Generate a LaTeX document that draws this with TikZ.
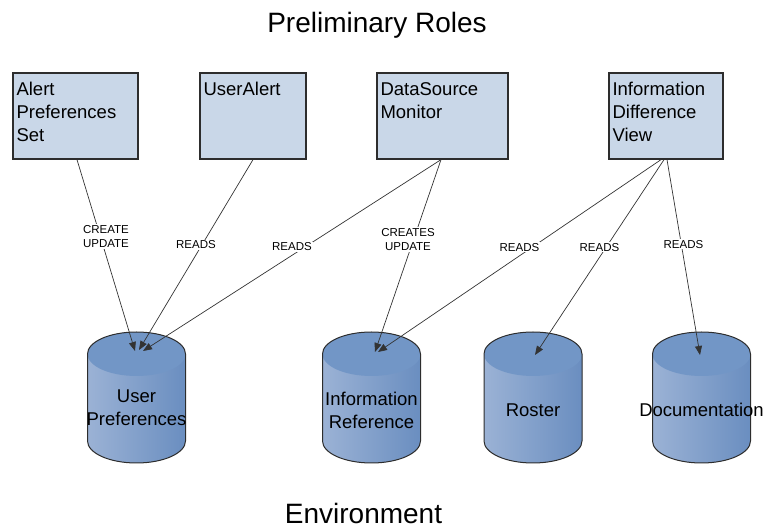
\documentclass[tikz,border=0pt]{standalone}
\usepackage{fontspec}
\setmainfont{Liberation Sans}
\usetikzlibrary{arrows.meta}
\definecolor{rolefill}{RGB}{201,215,232}
\definecolor{dbleft}{RGB}{155,178,213}
\definecolor{dbright}{RGB}{106,142,192}
\definecolor{dbtop}{RGB}{114,150,198}
\definecolor{edge}{RGB}{45,45,45}
% database cylinder centred at x=#1 (top rim y=354, bottom rim y=441)
\newcommand\drawdb[1]{%
  \path[left color=dbleft, right color=dbright]
    (#1-49,354) -- (#1-49,441) arc[start angle=180, end angle=360, x radius=49pt, y radius=22pt]
    -- (#1+49,354) arc[start angle=0, end angle=180, x radius=49pt, y radius=22pt] -- cycle;
  \path[fill=dbtop] (#1,354) ellipse[x radius=49pt, y radius=22pt];
  \draw[edge, line width=1pt]
    (#1-49,354) -- (#1-49,441) arc[start angle=180, end angle=360, x radius=49pt, y radius=22pt]
    -- (#1+49,354) arc[start angle=0, end angle=180, x radius=49pt, y radius=22pt] -- cycle;
}
\begin{document}
\begin{tikzpicture}[x=1pt, y=-1pt,
  role/.style={draw=edge, line width=1.3pt, fill=rolefill, minimum height=86pt, inner sep=0pt},
  roletext/.style={anchor=north west, align=left, inner sep=0pt,
    font=\fontsize{18.5}{23}\selectfont},
  dbtext/.style={align=center, inner sep=0pt, font=\fontsize{18.5}{22.5}\selectfont},
  title/.style={inner sep=0pt, font=\fontsize{28}{30}\selectfont},
  link/.style={draw=black!80, line width=0.7pt, -{Triangle[length=9pt, width=7pt]}},
  lbl/.style={fill=white, inner sep=1pt, align=center, font=\fontsize{11.5}{14.5}\selectfont}]
\useasboundingbox (0,0) rectangle (764,529);

% titles
\node[title, anchor=base] (ttop) at (377,33) {Preliminary Roles};
\node[title, anchor=base] (tbot) at (363.5,523.5) {Environment};

% role boxes
\node[role, minimum width=125pt] (aps) at (75.5,116) {};
\node[role, minimum width=106pt] (ua)  at (253,116) {};
\node[role, minimum width=131pt] (dsm) at (442.5,116) {};
\node[role, minimum width=114pt] (idv) at (666,116) {};
\node[roletext] (apsT) at ([shift={(4,10)}]aps.north west) {Alert\\Preferences\\Set};
\node[roletext] (uaT)  at ([shift={(4,10)}]ua.north west) {UserAlert};
\node[roletext] (dsmT) at ([shift={(4,10)}]dsm.north west) {DataSource\\Monitor};
\node[roletext] (idvT) at ([shift={(4,10)}]idv.north west) {Information\\Difference\\View};

% data stores
\drawdb{136.5}
\drawdb{371.5}
\drawdb{533}
\drawdb{701.5}
\node[dbtext, anchor=north] (up) at (136.5,390) {User\\Preferences};
\node[dbtext, anchor=north] (ir) at (371.5,392) {Information\\Reference};
\node[dbtext, anchor=base]  (ro) at (533,417) {Roster};
\node[dbtext, anchor=base]  (doc) at (701.5,417) {Documentation};

% arrow targets on the cylinder tops
\coordinate (upA) at (135,351);
\coordinate (upB) at (139,350);
\coordinate (upC) at (143,351);
\coordinate (irA) at (375,352);
\coordinate (irB) at (378,352);
\coordinate (roA) at (535,355);
\coordinate (doA) at (700,355);

% connectors
\draw[link] ([xshift=1.5pt]aps.south) -- node[lbl, pos=0.5, yshift=19pt] (l1) {CREATE\\UPDATE} (upA);
\draw[link] (ua.south) -- node[lbl, pos=0.5, yshift=10pt] (l2) {READS} (upB);
\draw[link] ([xshift=-1.5pt]dsm.south) -- node[lbl, pos=0.5, yshift=8.5pt] (l3) {READS} (upC);
\draw[link] ([xshift=-1.5pt]dsm.south) -- node[lbl, pos=0.5, yshift=16.5pt] (l4) {CREATES\\UPDATE} (irA);
\draw[link] ([xshift=-5pt]idv.south) -- node[lbl, pos=0.5, yshift=8.5pt] (l5) {READS} (irB);
\draw[link] ([xshift=-2pt]idv.south) -- node[lbl, pos=0.5, yshift=10pt] (l6) {READS} (roA);
\draw[link] ([xshift=1pt]idv.south) -- node[lbl, pos=0.5, yshift=13pt] (l7) {READS} (doA);
\end{tikzpicture}
\end{document}
